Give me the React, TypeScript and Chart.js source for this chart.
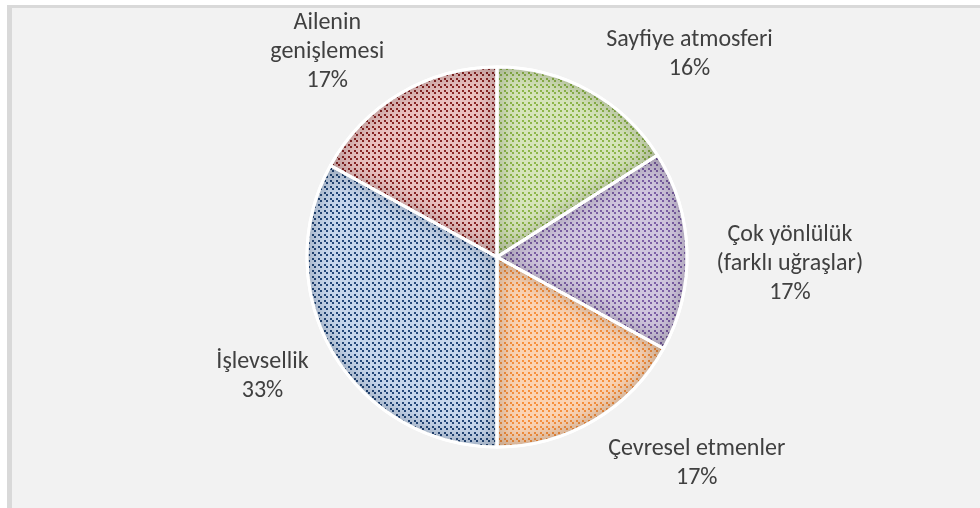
import React, { useEffect, useRef } from "react";
import { Chart, registerables } from "chart.js";

Chart.register(...registerables);

const categories = [
  ["Sayfiye atmosferi"],
  ["Çok yönlülük", "(farklı uğraşlar)"],
  ["Çevresel etmenler"],
  ["İşlevsellik"],
  ["Ailenin", "genişlemesi"],
];
const values = [16, 17, 17, 33, 17];
const percentLabels = ["16%", "17%", "17%", "33%", "17%"];

const patternBg = ["#d6e4bb", "#d0c6de", "#fbd3b3", "#c6d6ec", "#eac0bf"];
const patternFg = ["#8db64a", "#7c5fa6", "#f7903d", "#24487a", "#8a2424"];

// label offsets from the mid-angle point on the rim (layout only)
const labelOffsets = [
  [101, -36],
  [103, 13],
  [103, 43],
  [-71, 23],
  [-73, -41],
];

function makePattern(bg: string, fg: string): CanvasPattern | string {
  const c = document.createElement("canvas");
  c.width = 6;
  c.height = 6;
  const g = c.getContext("2d");
  if (!g) return bg;
  g.fillStyle = bg;
  g.fillRect(0, 0, 6, 6);
  g.fillStyle = fg;
  g.fillRect(0, 0, 2, 2);
  g.fillRect(2, 2, 2, 2);
  const p = g.createPattern(c, "repeat");
  return p || bg;
}

function arcPath(ctx: CanvasRenderingContext2D, x: number, y: number, r: number, sa: number, ea: number) {
  ctx.moveTo(x, y);
  ctx.arc(x, y, r, sa, ea);
  ctx.closePath();
}

const shadePlugin = {
  id: "innerShade",
  afterDatasetsDraw(chart: any) {
    const ctx: CanvasRenderingContext2D = chart.ctx;
    const meta = chart.getDatasetMeta(0);
    meta.data.forEach((arc: any) => {
      const { x, y, startAngle, endAngle, outerRadius } = arc.getProps(
        ["x", "y", "startAngle", "endAngle", "outerRadius"],
        true
      );
      ctx.save();
      ctx.beginPath();
      arcPath(ctx, x, y, outerRadius, startAngle, endAngle);
      ctx.clip();
      ctx.beginPath();
      ctx.rect(x - outerRadius * 3, y - outerRadius * 3, outerRadius * 6, outerRadius * 6);
      arcPath(ctx, x, y, outerRadius, startAngle, endAngle);
      ctx.fillStyle = "#000";
      ctx.shadowColor = "rgba(0,0,0,0.3)";
      ctx.shadowBlur = 22;
      ctx.fill("evenodd");
      ctx.restore();
    });
    meta.data.forEach((arc: any) => {
      const { x, y, startAngle, endAngle, outerRadius } = arc.getProps(
        ["x", "y", "startAngle", "endAngle", "outerRadius"],
        true
      );
      ctx.save();
      ctx.beginPath();
      arcPath(ctx, x, y, outerRadius, startAngle, endAngle);
      ctx.strokeStyle = "#ffffff";
      ctx.lineWidth = 3;
      ctx.lineJoin = "round";
      ctx.stroke();
      ctx.restore();
    });
  },
  afterDraw(chart: any) {
    const ctx: CanvasRenderingContext2D = chart.ctx;
    const meta = chart.getDatasetMeta(0);
    ctx.save();
    ctx.fillStyle = "#404040";
    ctx.font = "24px Carlito, Calibri, Lato, sans-serif";
    ctx.textAlign = "center";
    ctx.textBaseline = "middle";
    const lh = 29;
    meta.data.forEach((arc: any, i: number) => {
      const { x, y, startAngle, endAngle, outerRadius } = arc.getProps(
        ["x", "y", "startAngle", "endAngle", "outerRadius"],
        true
      );
      const mid = (startAngle + endAngle) / 2;
      const ax = x + Math.cos(mid) * outerRadius + labelOffsets[i][0];
      const ay = y + Math.sin(mid) * outerRadius + labelOffsets[i][1];
      const lines = [...categories[i], percentLabels[i]];
      const top = ay - ((lines.length - 1) * lh) / 2;
      lines.forEach((t, j) => ctx.fillText(t, ax, top + j * lh));
    });
    ctx.restore();
  },
};

export default function App() {
  const ref = useRef<HTMLCanvasElement | null>(null);
  useEffect(() => {
    document.body.style.margin = "0";
    const canvas = ref.current;
    if (!canvas) return;
    const chart = new Chart(canvas, {
      type: "pie",
      data: {
        labels: categories.map((c) => c.join(" ")),
        datasets: [
          {
            data: values,
            backgroundColor: values.map((_, i) => makePattern(patternBg[i], patternFg[i])) as any,
            borderColor: "#ffffff",
            borderWidth: 3,
            hoverOffset: 0,
          },
        ],
      },
      options: {
        responsive: false,
        animation: false,
        devicePixelRatio: 1,
        radius: 190,
        layout: { padding: { left: 14, right: 0, top: 6, bottom: 0 } },
        plugins: {
          legend: { display: false },
          tooltip: { enabled: false },
        },
        events: [],
      } as any,
      plugins: [shadePlugin],
    });
    return () => chart.destroy();
  }, []);
  return (
    <div style={{ position: "fixed", left: 0, top: 0, width: 980, height: 508, background: "#ffffff" }}>
      <div
        style={{
          position: "absolute",
          left: 7,
          top: 5,
          right: 0,
          bottom: 0,
          background: "#f2f2f2",
          borderLeft: "5px solid #d9d9d9",
          borderTop: "3px solid #d9d9d9",
        }}
      />
      <canvas ref={ref} width={980} height={508} style={{ position: "absolute", left: 0, top: 0 }} />
    </div>
  );
}
